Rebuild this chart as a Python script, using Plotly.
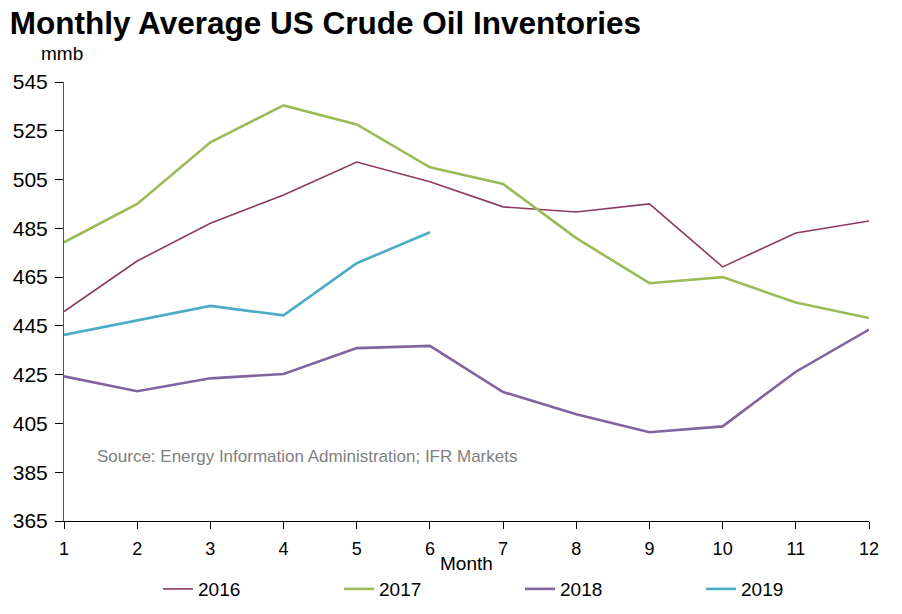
import plotly.graph_objects as go

months = list(range(1, 13))
y2016 = [450.9, 471.6, 487.1, 498.7, 512.2, 504.1, 493.8, 491.7, 495.0, 469.2, 483.1, 488.0]
y2017 = [479.3, 495.0, 520.3, 535.4, 527.6, 510.0, 503.2, 481.0, 462.5, 465.0, 454.6, 448.2]
y2018 = [424.3, 418.2, 423.5, 425.3, 435.9, 436.8, 417.9, 408.8, 401.4, 403.8, 426.2, 443.5]
y2019 = [441.3, 447.4, 453.2, 449.3, 470.7, 483.4]
series_names = ["2016", "2017", "2018", "2019"]
colors = ["#8B3A62", "#9BBB59", "#8064A2", "#4BACC6"]
widths = [1.6, 2.6, 2.6, 2.6]
y_ticks = [365, 385, 405, 425, 445, 465, 485, 505, 525, 545]

fig = go.Figure()
for name, ys, c, w in zip(series_names, [y2016, y2017, y2018, y2019], colors, widths):
    fig.add_trace(go.Scatter(x=months[:len(ys)], y=ys, mode="lines", name=name,
                             line=dict(color=c, width=w)))

font_main = "Liberation Sans, Arial, sans-serif"
fig.update_layout(
    width=902, height=614,
    margin=dict(l=56, r=41, t=74, b=101, autoexpand=False),
    paper_bgcolor="white", plot_bgcolor="white",
    font=dict(family=font_main, color="black"),
    title=dict(text="<b>Monthly Average US Crude Oil Inventories</b>",
               xref="container", x=0.002, xanchor="left",
               yref="container", y=0.975, yanchor="middle",
               font=dict(size=31.5, family=font_main, color="black")),
    showlegend=True,
    legend=dict(orientation="h", xref="container", x=0.1663, xanchor="left",
                y=-0.155, yanchor="middle",
                font=dict(size=19), entrywidth=136, entrywidthmode="pixels",
                itemwidth=30, tracegroupgap=0, bgcolor="rgba(0,0,0,0)"),
    xaxis=dict(range=[1, 12], tickmode="array", tickvals=months,
               showgrid=False, zeroline=False, showline=True, linecolor="black",
               linewidth=1, ticks="outside", ticklen=7, tickcolor="black",
               ticklabelstandoff=4, tickfont=dict(size=18), title=None),
    yaxis=dict(range=[365, 545], tickmode="array", tickvals=y_ticks,
               showgrid=False, zeroline=False, showline=True, linecolor="#555555",
               linewidth=1, ticks="outside", ticklen=8, tickcolor="black",
               ticklabelstandoff=3, tickfont=dict(size=21), title=None),
)
fig.add_annotation(text="mmb", xref="paper", yref="paper", x=-0.031, y=1.065,
                   xanchor="left", yanchor="middle", showarrow=False,
                   font=dict(size=19))
fig.add_annotation(text="Month", xref="paper", yref="paper", x=0.5006, y=-0.0957,
                   xanchor="center", yanchor="middle", showarrow=False,
                   font=dict(size=19))
fig.add_annotation(text="Source: Energy Information Administration; IFR Markets",
                   xref="paper", yref="paper", x=0.039, y=0.1458,
                   xanchor="left", yanchor="middle", showarrow=False,
                   font=dict(size=17, color="#808080", family=font_main))
fig.write_html("out.html")
